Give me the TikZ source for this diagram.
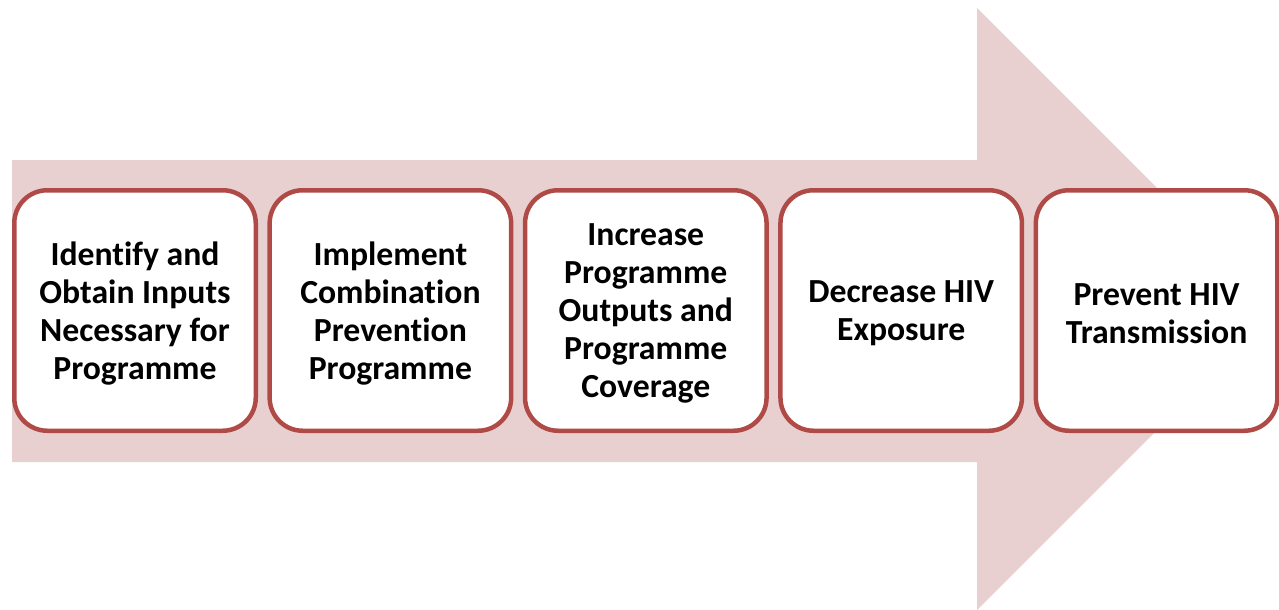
\documentclass[tikz,border=0pt]{standalone}
\usepackage{fontspec}
\setmainfont{Carlito}[Ligatures=NoCommon]
\definecolor{arrowfill}{HTML}{E8D0D1}
\definecolor{boxline}{HTML}{B04A47}
\tikzset{
  stagebox/.style={draw=boxline, line width=4.5pt, fill=white, rounded corners=33pt,
    minimum width=241.5pt, minimum height=240.5pt, inner sep=0pt},
  stagetext/.style={align=flush center, text width=236pt, inner sep=0pt,
    font=\fontsize{33.7}{38}\selectfont\bfseries}
}
\begin{document}
\begin{tikzpicture}[x=1pt,y=-1pt]
\useasboundingbox (0,0) rectangle (1279,610);
\fill[arrowfill] (12,160) -- (977,160) -- (977,8) -- (1278,309) -- (977,610) -- (977,462) -- (12,462) -- cycle;
\node[stagebox] (b1) at (135,310.5) {};
\node[stagebox] (b2) at (390.4,310.5) {};
\node[stagebox] (b3) at (645.8,310.5) {};
\node[stagebox] (b4) at (901.2,310.5) {};
\node[stagebox] (b5) at (1156.6,310.5) {};
\node[stagetext, yshift=-3pt] (t1) at (b1) {Identify and\\Obtain Inputs\\Necessary for\\Programme};
\node[stagetext, yshift=-3pt] (t2) at (b2) {Implement\\Combination\\Prevention\\Programme};
\node[stagetext, yshift=-3pt] (t3) at (b3) {Increase\\Programme\\Outputs and\\Programme\\Coverage};
\node[stagetext, yshift=-3pt] (t4) at (b4) {Decrease HIV\\Exposure};
\node[stagetext, yshift=-3pt] (t5) at (b5) {Prevent HIV\\Transmission};
\end{tikzpicture}
\end{document}
